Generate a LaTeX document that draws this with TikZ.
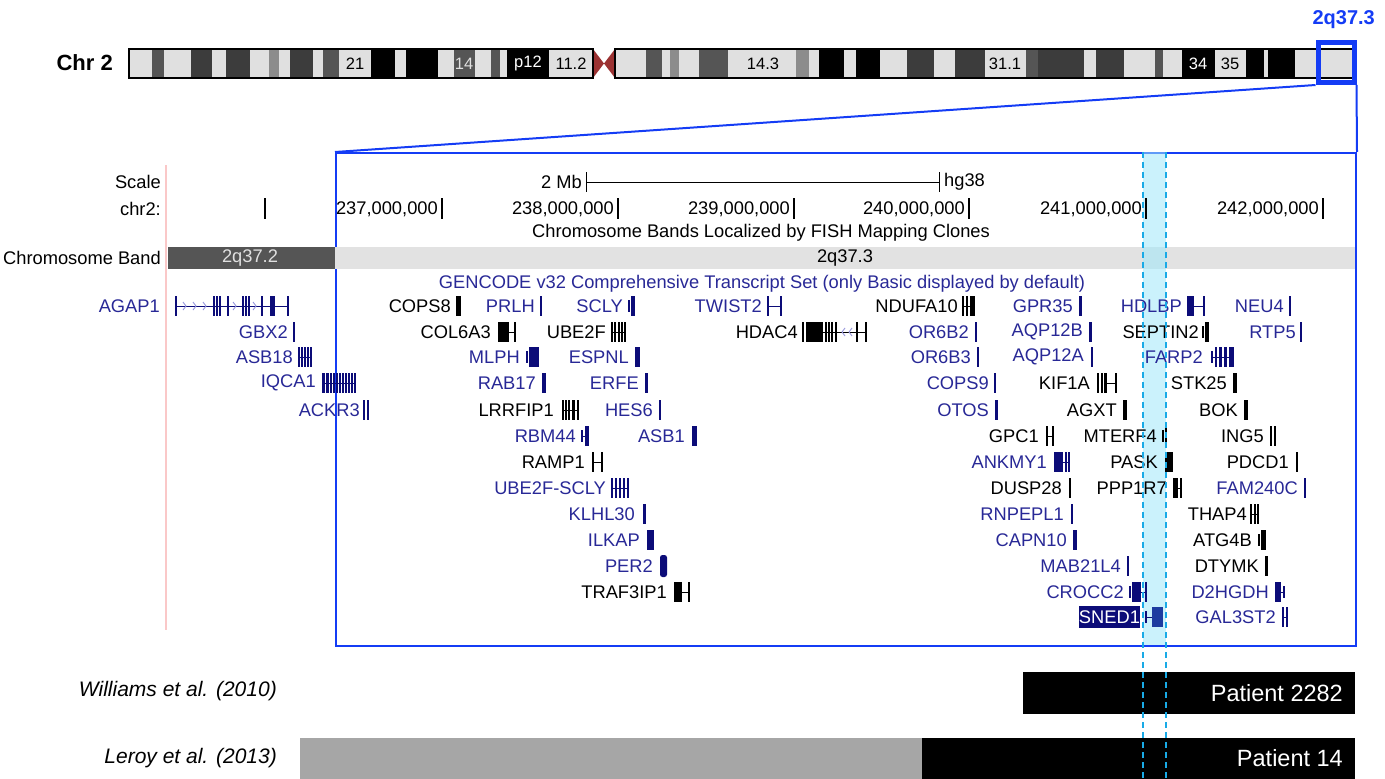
\documentclass[tikz,border=0pt]{standalone}
\usepackage{fontspec}
\setmainfont{Liberation Sans}
\definecolor{gnavy}{RGB}{12,12,120}
\definecolor{lnavy}{RGB}{40,40,150}
\definecolor{ublue}{RGB}{20,60,245}
\definecolor{bandL}{RGB}{224,224,224}
\definecolor{bandD}{RGB}{60,60,60}
\definecolor{bandG}{RGB}{85,85,85}
\definecolor{bandM}{RGB}{140,140,140}
\definecolor{cen}{RGB}{155,50,50}
\definecolor{hlfill}{RGB}{160,232,250}
\definecolor{hldash}{RGB}{25,170,230}
\definecolor{pinkln}{RGB}{250,200,200}
\definecolor{patgray}{RGB}{166,166,166}
\definecolor{trkD}{RGB}{85,85,85}
\definecolor{trkL}{RGB}{226,226,226}
\definecolor{chevc}{RGB}{150,150,220}
\definecolor{snedc}{RGB}{30,60,160}
\newcommand{\ucsc}{\fontsize{18.3}{20}\selectfont}
\newcommand{\gEx}[4]{\fill[#4] (#1,#3-10) rectangle (#2,#3+10);}
\newcommand{\gTk}[3]{\draw[#3,line width=1.6pt] (#1,#2-10) -- (#1,#2+10);}
\newcommand{\gTs}[3]{\draw[#3,line width=1.2pt] (#1,#2-6) -- (#1,#2+6);}
\newcommand{\gIn}[4]{\draw[#4,line width=1pt] (#1,#3) -- (#2,#3);}
\newcommand{\gChR}[2]{\draw[chevc,line width=0.9pt] (#1-3,#2-4)--(#1,#2)--(#1-3,#2+4);}
\newcommand{\gChL}[2]{\draw[chevc,line width=0.9pt] (#1+3,#2-4)--(#1,#2)--(#1+3,#2+4);}
\tikzset{
  lab/.style={font=\ucsc, inner sep=0pt, anchor=east},
  nlab/.style={lab, text=lnavy},
  klab/.style={lab, text=black},
  bandtxt/.style={font=\fontsize{16.5}{17}\selectfont, inner sep=0pt},
  pattxt/.style={font=\fontsize{23.5}{25}\selectfont, inner sep=0pt, anchor=east},
  reftxt/.style={font=\fontsize{21}{23}\selectfont\itshape, inner sep=0pt, anchor=east},
  postick/.style={line width=1.2pt},
}
\begin{document}
\begin{tikzpicture}[x=1pt,y=-1pt]
\useasboundingbox (0,0) rectangle (1385,779);
% ---------- ideogram ----------
\node[font=\fontsize{22}{24}\selectfont\bfseries, anchor=east, inner sep=0pt] (chrlab) at (113,63) {Chr 2};
\foreach \a/\b/\c in {129/152/bandL,152/164/bandG,164/191/bandL,191/212/bandD,212/226/bandL,226/250/bandD,250/269/bandL,269/279/bandM,279/290/bandL,290/313/bandD,313/323/bandL,323/339/bandG,339/371/bandL,371/395/black,395/406/bandL,406/438/black,438/454/bandL,454/475/bandG,475/491/bandL,491/500/bandG,500/507/bandL,507/549/black,549/593/bandL,
615/646/bandL,646/662/bandG,662/670/bandL,670/679/bandM,679/699/bandL,699/728/bandG,728/796/bandL,796/809/bandM,809/819/bandL,819/844/black,844/856/bandL,856/880/black,880/907/bandL,907/934/bandD,934/955/bandL,955/985/bandD,985/1026/bandL,1026/1038/bandG,1038/1084/bandD,1084/1096/bandL,1096/1124/bandD,1124/1155/bandL,1155/1163/bandG,1163/1182/bandL,1182/1215/black,1215/1246/bandL,1246/1264/black,1264/1268/bandL,1268/1295/black,1295/1355/bandL}
  {\fill[\c] (\a,49) rectangle (\b,78);}
\fill[cen] (593,49) -- (604,63.5) -- (593,78) -- cycle;
\fill[cen] (615,49) -- (604,63.5) -- (615,78) -- cycle;
\draw[line width=1.2pt] (129,49) rectangle (593,78);
\draw[line width=1.2pt] (615,49) rectangle (1355,78);
\node[bandtxt] (b21) at (355,63.5) {21};
\node[bandtxt, text=bandL] (b14) at (464,63.5) {14};
\node[bandtxt, text=white] (bp12) at (528,63.5) {p12};
\node[bandtxt] (b112) at (571,63.5) {11.2};
\node[bandtxt] (b143) at (763,63.5) {14.3};
\node[bandtxt] (b311) at (1005,63.5) {31.1};
\node[bandtxt, text=white] (b34) at (1198,63.5) {34};
\node[bandtxt] (b35) at (1230,63.5) {35};
\node[draw=ublue, line width=5pt, minimum width=36pt, minimum height=40pt, inner sep=0pt] (hlbox) at (1336,62.5) {};
\node[font=\fontsize{20}{22}\selectfont\bfseries, text=ublue, anchor=east, inner sep=0pt] (bandname) at (1375,20) {2q37.3};
% ---------- zoom frame ----------
\node[draw=ublue, line width=2pt, minimum width=1020pt, minimum height=493pt, inner sep=0pt, anchor=north west] (zoomrect) at (335,152) {};
\draw[ublue, line width=2pt] (hlbox.south west) -- (zoomrect.north west);
\draw[ublue, line width=2pt] (hlbox.south east) -- (zoomrect.north east);
% ---------- UCSC tracks ----------
\draw[pinkln, line width=1.5pt] (166,165) -- (166,630);
\node[lab] (scalel) at (161,182) {Scale};
\node[lab] (chr2l) at (161,209) {chr2:};
\node[lab] (twomb) at (582,182) {2 Mb};
\draw[line width=1pt] (586,172) -- (586,192) (586,182) -- (939,182) (939,172) -- (939,192);
\node[lab, anchor=west] (hg38) at (944,182) {hg38};
\fill[trkD] (168,247) rectangle (335,269);
\fill[trkL] (335,247) rectangle (1355,269);
\fill[hlfill, opacity=0.55] (1143,152) rectangle (1166,645);
\foreach \x in {265,442,618,794,969,1146,1323} {\draw[postick] (\x,198) -- (\x,219);}
\node[lab] (p237) at (438,209) {237,000,000};
\node[lab] (p238) at (614,209) {238,000,000};
\node[lab] (p239) at (790,209) {239,000,000};
\node[lab] (p240) at (965,209) {240,000,000};
\node[lab] (p241) at (1142,209) {241,000,000};
\node[lab] (p242) at (1319,209) {242,000,000};
\node[font=\ucsc, inner sep=0pt] (fishttl) at (761,233) {Chromosome Bands Localized by FISH Mapping Clones};
\node[lab] (cbl) at (161,258) {Chromosome Band};
\node[font=\ucsc, inner sep=0pt, text=bandL] (q372) at (250,258) {2q37.2};
\node[font=\ucsc, inner sep=0pt] (q373) at (845,258) {2q37.3};
\node[font=\ucsc, inner sep=0pt, text=lnavy] (gencode) at (762,284) {GENCODE v32 Comprehensive Transcript Set (only Basic displayed by default)};
% ---------- genes row 1 ----------
\node[nlab] (agap1) at (160,306) {AGAP1};
\gIn{176}{288}{306}{gnavy}
\foreach \x in {186,196,206,236,256} {\gChR{\x}{306}}
\foreach \x in {176,214,217,220,228,243,246,249,262,288} {\gTk{\x}{306}{gnavy}}
\gEx{270}{275}{306}{gnavy}
\node[klab] (cops8) at (451,306) {COPS8};
\gEx{456}{461}{306}{black}
\node[nlab] (prlh) at (535,306) {PRLH};
\gTk{541}{306}{gnavy}
\node[nlab] (scly) at (623,306) {SCLY};
\gTs{629}{306}{gnavy} \gEx{631}{635}{306}{gnavy}
\node[nlab] (twist2) at (762,306) {TWIST2};
\gTk{768}{306}{gnavy} \gIn{768}{781}{306}{gnavy} \gTk{781}{306}{gnavy}
\node[klab] (ndufa10) at (958,306) {NDUFA10};
\gTk{963}{306}{black} \gTk{967}{306}{black} \gIn{963}{975}{306}{black} \gEx{970}{975}{306}{black}
\node[nlab] (gpr35) at (1073,306) {GPR35};
\gEx{1079}{1082}{306}{gnavy}
\node[nlab] (hdlbp) at (1182,306) {HDLBP};
\gEx{1187}{1194}{306}{gnavy} \gIn{1194}{1204}{306}{gnavy} \gTk{1204}{306}{gnavy}
\node[nlab] (neu4) at (1284,306) {NEU4};
\gTk{1290}{306}{gnavy}
% ---------- row 2 ----------
\node[nlab] (gbx2) at (288,332) {GBX2};
\gTk{294}{332}{gnavy}
\node[klab] (col6a3) at (491,332) {COL6A3};
\gEx{498}{509}{332}{black} \gIn{509}{515}{332}{black} \gTk{515}{332}{black}
\node[klab] (ube2f) at (606,332) {UBE2F};
\gIn{612}{625}{332}{black}
\foreach \x in {612,615,619,622,625} {\gTk{\x}{332}{black}}
\node[klab] (hdac4) at (798,332) {HDAC4};
\gTk{803}{332}{black} \gEx{806}{823}{332}{black} \gIn{823}{866}{332}{black}
\foreach \x in {826,829,832,836,857,866} {\gTk{\x}{332}{black}}
\gChL{842}{332} \gChL{849}{332}
\node[nlab] (or6b2) at (969,332) {OR6B2};
\gTk{976}{332}{gnavy}
\node[nlab] (aqp12b) at (1083,332) {AQP12B};
\gEx{1089}{1092}{332}{gnavy}
\node[klab] (septin2) at (1199,332) {SEPTIN2};
\gTs{1203}{332}{black} \gEx{1205}{1209}{332}{black}
\node[nlab] (rtp5) at (1296,332) {RTP5};
\gTk{1301}{332}{gnavy}
% ---------- row 3 ----------
\node[nlab] (asb18) at (293,357) {ASB18};
\gIn{299}{311}{357}{gnavy}
\foreach \x in {299,302,305,308,311} {\gTk{\x}{357}{gnavy}}
\node[nlab] (mlph) at (520,357) {MLPH};
\gTs{527}{357}{gnavy} \gEx{529}{539}{357}{gnavy}
\node[nlab] (espnl) at (629,357) {ESPNL};
\gEx{635}{640}{357}{gnavy}
\node[nlab] (or6b3) at (971,357) {OR6B3};
\gTk{978}{357}{gnavy}
\node[nlab] (aqp12a) at (1084,357) {AQP12A};
\gTk{1092}{357}{gnavy}
\node[nlab] (farp2) at (1203,357) {FARP2};
\gTs{1212}{357}{gnavy} \gIn{1212}{1234}{357}{gnavy} \gTk{1216}{357}{gnavy}
\gEx{1219}{1222}{357}{gnavy} \gEx{1224}{1227}{357}{gnavy} \gEx{1229}{1234}{357}{gnavy}
% ---------- row 4 ----------
\node[nlab] (iqca1) at (316,383) {IQCA1};
\gIn{322}{355}{383}{gnavy}
\gEx{322}{324.5}{383}{gnavy} \gEx{326}{328.5}{383}{gnavy}
\foreach \x in {331,334,337,340,343,346,349,352,355} {\gTk{\x}{383}{gnavy}}
\node[nlab] (rab17) at (536,383) {RAB17};
\gEx{542}{546}{383}{gnavy}
\node[nlab] (erfe) at (639,383) {ERFE};
\gEx{645}{648}{383}{gnavy}
\node[nlab] (cops9) at (989,383) {COPS9};
\gTk{995}{383}{gnavy}
\node[klab] (kif1a) at (1090,383) {KIF1A};
\gEx{1097}{1099}{383}{black} \gEx{1100.5}{1102.5}{383}{black} \gEx{1104}{1107}{383}{black}
\gIn{1107}{1116}{383}{black} \gTk{1116}{383}{black}
\node[klab] (stk25) at (1227,383) {STK25};
\gEx{1233}{1237}{383}{black}
% ---------- row 5 ----------
\node[nlab] (ackr3) at (360,410) {ACKR3};
\gTk{364}{410}{gnavy} \gTk{368}{410}{gnavy}
\node[klab] (lrrfip1) at (554,410) {LRRFIP1};
\gIn{563}{578}{410}{black}
\foreach \x in {563,566,569,578} {\gTk{\x}{410}{black}}
\gEx{572}{575}{410}{black}
\node[nlab] (hes6) at (653,410) {HES6};
\gTk{660}{410}{gnavy}
\node[nlab] (otos) at (989,410) {OTOS};
\gEx{995}{998}{410}{gnavy}
\node[klab] (agxt) at (1117,410) {AGXT};
\gEx{1123}{1127}{410}{black}
\node[klab] (bok) at (1238,410) {BOK};
\gEx{1244}{1248}{410}{black}
% ---------- row 6 ----------
\node[nlab] (rbm44) at (576,436) {RBM44};
\gTs{582}{436}{gnavy} \gIn{582}{585}{436}{gnavy} \gEx{585}{589}{436}{gnavy}
\node[nlab] (asb1) at (685,436) {ASB1};
\gEx{692}{697}{436}{gnavy}
\node[klab] (gpc1) at (1039,436) {GPC1};
\gTk{1047}{436}{black} \gIn{1047}{1053}{436}{black} \gTk{1053}{436}{black}
\node[klab] (mterf4) at (1157,436) {MTERF4};
\gTs{1163}{436}{black} \gTk{1166}{436}{black}
\node[klab] (ing5) at (1264,436) {ING5};
\gTk{1271}{436}{black} \gTk{1275}{436}{black}
% ---------- row 7 ----------
\node[klab] (ramp1) at (585,462) {RAMP1};
\gTk{593}{462}{black} \gIn{593}{602}{462}{black} \gTk{602}{462}{black}
\node[nlab] (ankmy1) at (1047,462) {ANKMY1};
\gEx{1054}{1063}{462}{gnavy} \gIn{1063}{1069}{462}{gnavy} \gTk{1066}{462}{gnavy} \gTk{1069}{462}{gnavy}
\node[klab] (pask) at (1158,462) {PASK};
\gEx{1165}{1173}{462}{black}
\node[klab] (pdcd1) at (1289,462) {PDCD1};
\gTk{1297}{462}{black}
% ---------- row 8 ----------
\node[nlab] (ube2fscly) at (606,488) {UBE2F-SCLY};
\gIn{612}{628}{488}{gnavy}
\foreach \x in {612,616,620,624,628} {\gTk{\x}{488}{gnavy}}
\node[klab] (dusp28) at (1062,488) {DUSP28};
\gTk{1070}{488}{black}
\node[klab] (ppp1r7) at (1167,488) {PPP1R7};
\gEx{1173}{1178}{488}{black} \gIn{1178}{1181}{488}{black} \gTk{1181}{488}{black}
\node[nlab] (fam240c) at (1298,488) {FAM240C};
\gTk{1305}{488}{gnavy}
% ---------- row 9 ----------
\node[nlab] (klhl30) at (635,514) {KLHL30};
\gEx{643}{646}{514}{gnavy}
\node[nlab] (rnpepl1) at (1064,514) {RNPEPL1};
\gTk{1072}{514}{gnavy}
\node[klab] (thap4) at (1247,514) {THAP4};
\gIn{1251}{1258}{514}{black}
\foreach \x in {1251,1255,1258} {\gTk{\x}{514}{black}}
% ---------- row 10 ----------
\node[nlab] (ilkap) at (640,540) {ILKAP};
\gEx{647}{654}{540}{gnavy}
\node[nlab] (capn10) at (1067,540) {CAPN10};
\gEx{1073}{1077}{540}{gnavy}
\node[klab] (atg4b) at (1252,540) {ATG4B};
\gTs{1259}{540}{black} \gEx{1261}{1266}{540}{black}
% ---------- row 11 ----------
\node[nlab] (per2) at (653,566) {PER2};
\fill[gnavy, rounded corners=2.5pt] (660,555) rectangle (667,577);
\node[nlab] (mab21l4) at (1121,566) {MAB21L4};
\gTk{1128}{566}{gnavy}
\node[klab] (dtymk) at (1259,566) {DTYMK};
\gEx{1265}{1268}{566}{black}
% ---------- row 12 ----------
\node[klab] (traf3ip1) at (667,592) {TRAF3IP1};
\gEx{674}{682}{592}{black} \gIn{682}{689}{592}{black} \gTk{689}{592}{black}
\node[nlab] (crocc2) at (1124,592) {CROCC2};
\gTs{1130}{592}{gnavy} \gEx{1132}{1141}{592}{gnavy} \gIn{1141}{1146}{592}{gnavy} \gTk{1146}{592}{gnavy}
\node[nlab] (d2hgdh) at (1269,592) {D2HGDH};
\gEx{1275}{1281}{592}{gnavy} \gIn{1281}{1284}{592}{gnavy} \gTs{1284}{592}{gnavy}
% ---------- row 13 ----------
\fill[gnavy] (1079,606) rectangle (1140,628);
\node[font=\ucsc, inner sep=0pt, text=white] (sned1) at (1109.5,617) {SNED1};
\gTs{1146}{617}{gnavy} \gIn{1146}{1152}{617}{gnavy} \gEx{1152}{1163}{617}{snedc}
\node[nlab] (gal3st2) at (1276,617) {GAL3ST2};
\gTk{1283}{617}{gnavy} \gIn{1283}{1287}{617}{gnavy} \gTk{1287}{617}{gnavy}
% ---------- patients ----------
\node[reftxt] (williams) at (277,691) {Williams et al. (2010)};
\fill[black] (1023,672) rectangle (1355,714);
\node[pattxt, text=white] (p2282) at (1343,693) {Patient 2282};
\node[reftxt] (leroy) at (277,758) {Leroy et al. (2013)};
\fill[patgray] (300,738) rectangle (922,779);
\fill[black] (922,738) rectangle (1355,779);
\node[pattxt, text=white] (p14) at (1343,758.5) {Patient 14};
% ---------- highlight dashed lines ----------
\coordinate (hla) at (1143,152);
\coordinate (hlb) at (1143,779);
\coordinate (hlc) at (1166,152);
\coordinate (hld) at (1166,779);
\draw[hldash, line width=2pt, dash pattern=on 6pt off 4pt] (hla) -- (hlb);
\draw[hldash, line width=2pt, dash pattern=on 6pt off 4pt] (hlc) -- (hld);
\end{tikzpicture}
\end{document}
